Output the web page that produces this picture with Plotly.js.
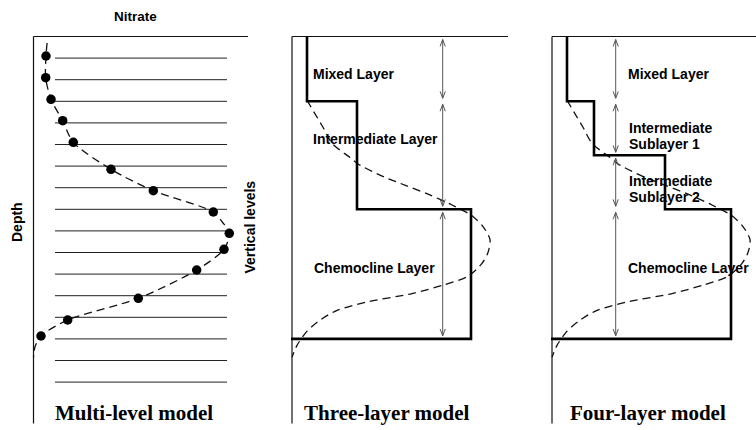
<!DOCTYPE html>
<html><head><meta charset="utf-8">
<script src="https://cdn.plot.ly/plotly-3.0.1.min.js"></script>
<style>html,body{margin:0;padding:0;background:#fff;}#chart{width:756px;height:430px;}</style>
</head><body><div id="chart"></div>
<script>
// ---------------- DATA (depth in vertical-level units, nitrate normalised) ----------------
const levelDepths = [1,2,3,4,5,6,7,8,9,10,11,12,13,14,15,16];
const levelSpan = [0.1075, 0.9675];
const dotDepth   = [0.903,1.907,2.907,3.898,4.898,6.148,7.139,8.125,9.111,9.852,10.81,12.12,13.125,13.866];
const dotNitrate = [0.0625,0.061,0.0875,0.146,0.199,0.3875,0.599,0.899,0.979,0.9525,0.816,0.524,0.171,0.0375];
const mlCurveDepth   = [0.3,0.903,1.907,2.907,3.898,4.898,6.148,7.139,8.125,8.6,9.111,9.852,10.81,12.12,13.125,13.866,14.35,14.85];
const mlCurveNitrate = [0.068,0.0625,0.061,0.0875,0.146,0.199,0.3875,0.599,0.899,0.945,0.979,0.9525,0.816,0.524,0.171,0.0375,0.008,0.0];
const profileDepth   = [2.95,3.5,4.2,4.94,5.6,5.9,6.5,6.9,7.3,7.8,8.3,8.8,9.4,10.0,10.5,11.1,11.5,11.9,12.3,12.7,13.2,13.7,14.3,14.85];
const profileNitrate = [0.075,0.11,0.155,0.20,0.29,0.33,0.46,0.57,0.68,0.80,0.90,0.955,0.99,0.98,0.95,0.88,0.76,0.60,0.37,0.22,0.13,0.07,0.025,0.0];
const threeBounds = [0,3,8,14];
const threeValues = [0.075,0.325,0.895];
const threeNames  = ["Mixed Layer","Intermediate Layer","Chemocline Layer"];
const fourBounds = [0,3,5.5,8,14];
const fourValues = [0.075,0.21,0.565,0.895];
const fourNames  = ["Mixed Layer","Intermediate\nSublayer 1","Intermediate\nSublayer 2","Chemocline Layer"];
const panelTitles = ["Multi-level model","Three-layer model","Four-layer model"];
const nitrateLabel = "Nitrate", depthLabel = "Depth", levelsLabel = "Vertical levels";

// ---------------- GEOMETRY / STYLE ----------------
const W = 756, H = 430, PXU = 200, PAD = 0.03;
const panels = [{x0:33.5, x1:248},{x0:292, x1:508},{x0:552, x1:756}];
const y0px = 36.5, pxPerLevel = 21.6, axisBottom = 17.92;
const sans = "Liberation Sans, Arial, Helvetica, sans-serif";
const black = "#111";

const layout = {width:W, height:H, margin:{l:0,r:0,t:0,b:0}, showlegend:false,
  paper_bgcolor:"#fff", plot_bgcolor:"rgba(0,0,0,0)",
  yaxis:{domain:[0,1], range:[(H-y0px)/pxPerLevel, -y0px/pxPerLevel], visible:false, fixedrange:true},
  annotations:[], shapes:[]};
panels.forEach((p,i)=>{
  const k = i===0 ? "xaxis" : "xaxis"+(i+1);
  layout[k] = {domain:[(p.x0-PAD*PXU)/W, p.x1/W], range:[-PAD,(p.x1-p.x0)/PXU], visible:false, fixedrange:true};
});
const xr = i => i===0 ? "x" : "x"+(i+1);
const traces = [];
function line(xs, ys, i, style){ traces.push(Object.assign({type:"scatter", mode:"lines", x:xs, y:ys, xaxis:xr(i), yaxis:"y", hoverinfo:"skip"}, style)); }

// frames
panels.forEach((p,i)=>{
  line([0,(p.x1-p.x0)/PXU,null,0,0],[0,0,null,0,axisBottom], i, {line:{color:black,width:1.2}});
});
// vertical levels
{ const xs=[], ys=[]; levelDepths.forEach(d=>{xs.push(levelSpan[0],levelSpan[1],null); ys.push(d,d,null);});
  line(xs, ys, 0, {line:{color:"#222",width:1}}); }
// curves
const dashStyle = {color:black, width:1.3, dash:"8px,5px", shape:"spline", smoothing:0.8};
line(mlCurveNitrate, mlCurveDepth, 0, {line:dashStyle});
line(profileNitrate, profileDepth, 1, {line:dashStyle});
line(profileNitrate, profileDepth, 2, {line:dashStyle});
traces.push({type:"scatter", mode:"markers", x:dotNitrate, y:dotDepth, xaxis:"x", yaxis:"y",
  marker:{color:"#000", size:9.5}, hoverinfo:"skip"});
// step profiles
function steps(bounds, values, i){
  const xs=[], ys=[];
  values.forEach((v,j)=>{ xs.push(v,v); ys.push(bounds[j],bounds[j+1]); });
  xs.push(-0.005); ys.push(bounds[bounds.length-1]);
  line(xs, ys, i, {line:{color:"#000", width:2.6}});
}
steps(threeBounds, threeValues, 1);
steps(fourBounds, fourValues, 2);
// double-headed arrows
function arrows(bounds, xa, i){
  const g=0.14, hl=0.32, hw=0.013, xs=[], ys=[];
  for(let j=0;j<bounds.length-1;j++){
    const a=bounds[j]+g, b=bounds[j+1]-g;
    xs.push(xa,xa,null, xa-hw,xa,xa+hw,null, xa-hw,xa,xa+hw,null);
    ys.push(a,b,null, a+hl,a,a+hl,null, b-hl,b,b-hl,null);
  }
  line(xs, ys, i, {line:{color:"#555", width:1}});
}
arrows(threeBounds, 0.7535, 1);
arrows(fourBounds, 0.3185, 2);

// ---------------- TEXT ----------------
function ann(text, xpx, ypx, opt){
  layout.annotations.push(Object.assign({text:text, x:xpx/W, y:1-ypx/H, xref:"paper", yref:"paper",
    showarrow:false, xanchor:"center", yanchor:"middle",
    font:{family:sans, size:14, color:"#000", weight:"bold"}}, opt||{}));
}
ann(nitrateLabel, 135, 16, {font:{family:sans, size:13.5, color:"#000", weight:"bold"}});
ann(depthLabel, 17, 222, {textangle:-90});
ann(levelsLabel, 249, 227.5, {textangle:-90});
const lab = {xanchor:"left"};
const threeLabelPos = [[311,74.2],[311,139],[311.5,268]];
threeNames.forEach((t,j)=>ann(t, threeLabelPos[j][0], threeLabelPos[j][1], lab));
const fourLabelPos = [[[625.5,74]],[[626.5,127.5],[626.5,144]],[[626.5,181],[626.5,197.5]],[[625.5,267.5]]];
fourNames.forEach((t,j)=>t.split("\n").forEach((s,m)=>ann(s, fourLabelPos[j][m][0], fourLabelPos[j][m][1], lab)));
const titlePos = [[134,413],[386.5,413],[648,413]];
panelTitles.forEach((t,j)=>ann(t, titlePos[j][0], titlePos[j][1], {font:{family:"Liberation Serif, Times New Roman, serif", size:21, color:"#000", weight:"bold"}}));

Plotly.newPlot("chart", traces, layout, {staticPlot:true, displayModeBar:false});
</script></body></html>
